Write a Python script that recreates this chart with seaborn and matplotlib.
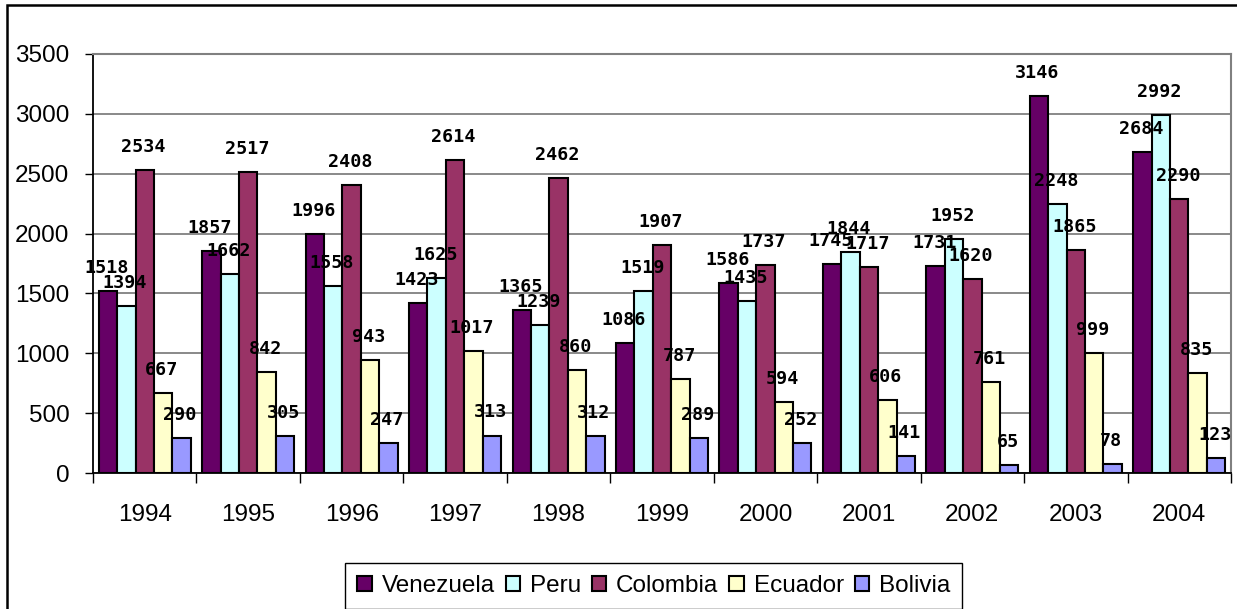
import matplotlib
matplotlib.use('Agg')
import matplotlib.pyplot as plt
import seaborn as sns
import pandas as pd
from matplotlib.patches import Rectangle

years = ['1994', '1995', '1996', '1997', '1998', '1999', '2000', '2001', '2002', '2003', '2004']
countries = ['Venezuela', 'Peru', 'Colombia', 'Ecuador', 'Bolivia']
venezuela = [1518, 1857, 1996, 1423, 1365, 1086, 1586, 1745, 1731, 3146, 2684]
peru = [1394, 1662, 1558, 1625, 1239, 1519, 1435, 1844, 1952, 2248, 2992]
colombia = [2534, 2517, 2408, 2614, 2462, 1907, 1737, 1717, 1620, 1865, 2290]
ecuador = [667, 842, 943, 1017, 860, 787, 594, 606, 761, 999, 835]
bolivia = [290, 305, 247, 313, 312, 289, 252, 141, 65, 78, 123]
colors = ['#660066', '#CCFFFF', '#993366', '#FFFFCC', '#9999FF']

series = [venezuela, peru, colombia, ecuador, bolivia]
rows = []
for name, vals in zip(countries, series):
    for y, v in zip(years, vals):
        rows.append({'Year': y, 'Country': name, 'Value': v})
df = pd.DataFrame(rows)

sns.set_style('white', rc={'axes.edgecolor': 'black', 'text.color': 'black',
                           'xtick.color': 'black', 'ytick.color': 'black',
                           'xtick.bottom': True, 'ytick.left': True})
plt.rcParams['font.family'] = ['Liberation Sans', 'DejaVu Sans']

W, H = 1237, 609
fig = plt.figure(figsize=(W / 100, H / 100), dpi=100)
ax = fig.add_axes([93 / W, 1 - 473 / H, (1231 - 93) / W, (473 - 54) / H])

sns.barplot(data=df, x='Year', y='Value', hue='Country', order=years,
            hue_order=countries, palette=colors, saturation=1, width=0.89,
            edgecolor='black', linewidth=1.5, errorbar=None, legend=False, ax=ax)

ax.set_xlim(-0.5, len(years) - 0.5)
ax.set_ylim(0, 3500)
ax.set_yticks(range(0, 3501, 500))
ax.set_xlabel('')
ax.set_ylabel('')
ax.yaxis.grid(True, color='#808080', lw=1.3)
ax.xaxis.grid(False)
ax.set_axisbelow(True)

for s in ['left', 'bottom']:
    ax.spines[s].set_color('black')
    ax.spines[s].set_linewidth(1.3)
for s in ['top', 'right']:
    ax.spines[s].set_color('#808080')
    ax.spines[s].set_linewidth(1.5)

ax.tick_params(axis='y', length=6, width=1, direction='out', pad=11, labelsize=17.5)
ax.tick_params(axis='x', which='major', length=0, pad=22.5, labelsize=17.5)
ax.set_xticks([i - 0.5 for i in range(len(years) + 1)], minor=True)
ax.tick_params(axis='x', which='minor', length=7, width=1, direction='out')

for cont in ax.containers:
    for bar in cont:
        x = bar.get_x() + bar.get_width() / 2
        h = bar.get_height()
        ax.annotate(f'{int(round(h))}', (x, h), xytext=(-1, 13),
                    textcoords='offset points', ha='center', va='baseline',
                    fontfamily='DejaVu Sans Mono', fontweight='bold',
                    fontsize=13.2, annotation_clip=False)

handles = [Rectangle((0, 0), 1, 1, facecolor=c, edgecolor='black', lw=1.5) for c in colors]
leg = fig.legend(handles, countries, loc='upper left',
                 bbox_to_anchor=(345 / W, 1 - 563 / H), ncol=5, frameon=True,
                 fancybox=False, edgecolor='black', framealpha=1, fontsize=17.5,
                 handlelength=0.6, handleheight=0.6, handletextpad=0.4,
                 columnspacing=0.45, borderpad=0.5, borderaxespad=0)
leg.get_frame().set_linewidth(1.0)

fig.patches.append(Rectangle((7 / W, -0.05), 1.2, 1.05 - 5 / H,
                             transform=fig.transFigure, fill=False,
                             edgecolor='black', lw=1.8, clip_on=False))

fig.savefig('out.png', dpi=100)
